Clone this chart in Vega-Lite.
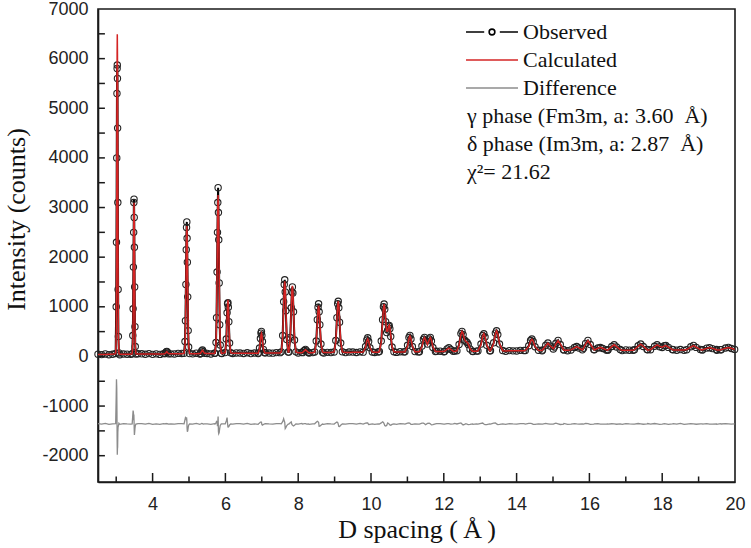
{
  "$schema": "https://vega.github.io/schema/vega-lite/v6.json",
  "width": 637,
  "height": 473,
  "autosize": {"type": "none"},
  "padding": {"left": 98, "top": 9, "right": 16, "bottom": 66},
  "background": "white",
  "config": {
    "view": {"stroke": "#1a1a1a", "strokeWidth": 1.6},
    "axis": {"grid": false, "domainColor": "#1a1a1a", "domainWidth": 1.6, "labelFont": "Liberation Sans", "labelFontSize": 18, "labelColor": "#222222", "titleFont": "Liberation Serif", "titleFontSize": 26, "titleFontWeight": "normal", "titleColor": "#111111"}
  },
  "data": {"values": [
    {"x":2.5,"o":46,"c":40,"d":-1354},{"x":2.6,"o":37,"c":41,"d":-1364},{"x":2.7,"o":50,"c":41,"d":-1351},{"x":2.8,"o":35,"c":42,"d":-1367},{"x":2.9,"o":44,"c":42,"d":-1358},
    {"x":2.985,"o":60,"c":56,"d":-1356},{"x":3.0,"o":1000,"c":446,"d":-806},{"x":3.0075,"o":2300,"c":1398,"d":-458},{"x":3.015,"o":4000,"c":3268,"d":-628},{"x":3.021,"o":5300,"c":5068,"d":-1128},{"x":3.0255,"o":5800,"c":6100,"d":-1660},{"x":3.03,"o":5870,"c":6493,"d":-1983},{"x":3.0345,"o":5600,"c":6100,"d":-1860},{"x":3.039,"o":4600,"c":5068,"d":-1828},{"x":3.045,"o":3100,"c":3268,"d":-1528},{"x":3.0525,"o":1350,"c":1398,"d":-1408},{"x":3.06,"o":400,"c":446,"d":-1406},{"x":3.075,"o":70,"c":56,"d":-1346},
    {"x":3.1,"o":35,"c":44,"d":-1369},{"x":3.2,"o":49,"c":44,"d":-1355},{"x":3.3,"o":45,"c":45,"d":-1360},{"x":3.4,"o":42,"c":45,"d":-1363},
    {"x":3.439,"o":55,"c":54,"d":-1359},{"x":3.456,"o":420,"c":239,"d":-1179},{"x":3.4645,"o":960,"c":689,"d":-1089},{"x":3.473,"o":1800,"c":1573,"d":-1133},{"x":3.48,"o":2500,"c":2424,"d":-1284},{"x":3.485,"o":3100,"c":2912,"d":-1172},{"x":3.49,"o":3170,"c":3098,"d":-1288},{"x":3.495,"o":2800,"c":2912,"d":-1472},{"x":3.5,"o":2200,"c":2424,"d":-1584},{"x":3.507,"o":1400,"c":1573,"d":-1533},{"x":3.5155,"o":600,"c":689,"d":-1449},{"x":3.524,"o":200,"c":239,"d":-1399},{"x":3.541,"o":50,"c":54,"d":-1364},
    {"x":3.6,"o":55,"c":47,"d":-1352},{"x":3.7,"o":53,"c":47,"d":-1354},{"x":3.8,"o":44,"c":48,"d":-1364},{"x":3.9,"o":57,"c":48,"d":-1351},{"x":4.0,"o":42,"c":49,"d":-1367},{"x":4.1,"o":52,"c":50,"d":-1358},{"x":4.2,"o":41,"c":50,"d":-1369},{"x":4.3,"o":56,"c":51,"d":-1355},
    {"x":4.346,"o":58,"c":56,"d":-1358},{"x":4.372,"o":90,"c":82,"d":-1352},{"x":4.39,"o":100,"c":98,"d":-1358},{"x":4.408,"o":85,"c":82,"d":-1357},{"x":4.434,"o":52,"c":56,"d":-1364},
    {"x":4.5,"o":52,"c":52,"d":-1360},{"x":4.6,"o":50,"c":53,"d":-1363},{"x":4.7,"o":61,"c":53,"d":-1352},{"x":4.8,"o":60,"c":54,"d":-1354},
    {"x":4.865,"o":62,"c":60,"d":-1358},{"x":4.89,"o":300,"c":216,"d":-1276},{"x":4.9025,"o":720,"c":595,"d":-1235},{"x":4.915,"o":1450,"c":1340,"d":-1250},{"x":4.925,"o":2150,"c":2057,"d":-1267},{"x":4.9325,"o":2600,"c":2468,"d":-1228},{"x":4.94,"o":2710,"c":2625,"d":-1275},{"x":4.9475,"o":2380,"c":2468,"d":-1448},{"x":4.955,"o":1900,"c":2057,"d":-1517},{"x":4.965,"o":1200,"c":1340,"d":-1500},{"x":4.9775,"o":520,"c":595,"d":-1435},{"x":4.99,"o":190,"c":216,"d":-1386},{"x":5.015,"o":58,"c":60,"d":-1362},
    {"x":5.1,"o":52,"c":56,"d":-1364},{"x":5.2,"o":65,"c":56,"d":-1351},{"x":5.3,"o":50,"c":57,"d":-1367},
    {"x":5.316,"o":60,"c":62,"d":-1362},{"x":5.348,"o":110,"c":100,"d":-1350},{"x":5.37,"o":128,"c":123,"d":-1355},{"x":5.392,"o":96,"c":100,"d":-1364},{"x":5.424,"o":64,"c":62,"d":-1358},
    {"x":5.5,"o":60,"c":58,"d":-1358},{"x":5.6,"o":50,"c":59,"d":-1369},{"x":5.7,"o":64,"c":59,"d":-1355},
    {"x":5.713,"o":65,"c":67,"d":-1362},{"x":5.742,"o":280,"c":260,"d":-1340},{"x":5.7565,"o":780,"c":731,"d":-1311},{"x":5.771,"o":1700,"c":1656,"d":-1316},{"x":5.7826,"o":2500,"c":2546,"d":-1406},{"x":5.7913,"o":3100,"c":3056,"d":-1316},{"x":5.8,"o":3400,"c":3251,"d":-1211},{"x":5.8087,"o":2900,"c":3056,"d":-1516},{"x":5.8174,"o":2350,"c":2546,"d":-1556},{"x":5.829,"o":1480,"c":1656,"d":-1536},{"x":5.8435,"o":640,"c":731,"d":-1451},{"x":5.858,"o":230,"c":260,"d":-1390},{"x":5.887,"o":66,"c":67,"d":-1361},
    {"x":5.9,"o":60,"c":60,"d":-1360},
    {"x":5.995,"o":78,"c":77,"d":-1359},{"x":6.025,"o":350,"c":289,"d":-1299},{"x":6.046,"o":880,"c":754,"d":-1234},{"x":6.0595,"o":1060,"c":1052,"d":-1352},{"x":6.07,"o":1080,"c":1140,"d":-1420},{"x":6.0805,"o":990,"c":1052,"d":-1422},{"x":6.094,"o":700,"c":754,"d":-1414},{"x":6.115,"o":270,"c":289,"d":-1379},{"x":6.145,"o":75,"c":77,"d":-1362},
    {"x":6.2,"o":59,"c":62,"d":-1363},{"x":6.3,"o":70,"c":62,"d":-1352},{"x":6.4,"o":69,"c":63,"d":-1354},{"x":6.5,"o":60,"c":64,"d":-1364},{"x":6.6,"o":74,"c":65,"d":-1351},{"x":6.7,"o":58,"c":65,"d":-1367},{"x":6.8,"o":68,"c":66,"d":-1358},{"x":6.9,"o":57,"c":66,"d":-1369},
    {"x":6.9025,"o":70,"c":72,"d":-1362},{"x":6.9375,"o":170,"c":151,"d":-1341},{"x":6.962,"o":360,"c":324,"d":-1324},{"x":6.9778,"o":470,"c":434,"d":-1324},{"x":6.99,"o":503,"c":467,"d":-1324},{"x":7.0022,"o":420,"c":434,"d":-1374},{"x":7.018,"o":300,"c":324,"d":-1384},{"x":7.0425,"o":140,"c":151,"d":-1371},{"x":7.0775,"o":74,"c":72,"d":-1358},
    {"x":7.1,"o":73,"c":68,"d":-1355},{"x":7.2,"o":68,"c":68,"d":-1360},{"x":7.3,"o":66,"c":69,"d":-1363},{"x":7.4,"o":77,"c":69,"d":-1352},{"x":7.5,"o":76,"c":70,"d":-1354},
    {"x":7.535,"o":92,"c":90,"d":-1358},{"x":7.573,"o":420,"c":373,"d":-1313},{"x":7.6,"o":1100,"c":995,"d":-1255},{"x":7.6167,"o":1450,"c":1393,"d":-1303},{"x":7.63,"o":1545,"c":1511,"d":-1326},{"x":7.6433,"o":1300,"c":1393,"d":-1453},{"x":7.66,"o":920,"c":995,"d":-1435},{"x":7.687,"o":340,"c":373,"d":-1393},{"x":7.725,"o":88,"c":90,"d":-1362},
    {"x":7.7425,"o":88,"c":90,"d":-1362},{"x":7.7815,"o":380,"c":356,"d":-1336},{"x":7.8088,"o":980,"c":939,"d":-1319},{"x":7.8264,"o":1300,"c":1311,"d":-1371},{"x":7.84,"o":1400,"c":1422,"d":-1382},{"x":7.8537,"o":1280,"c":1311,"d":-1391},{"x":7.8712,"o":900,"c":939,"d":-1399},{"x":7.8985,"o":330,"c":356,"d":-1386},{"x":7.9375,"o":92,"c":90,"d":-1358},
    {"x":8.0,"o":69,"c":73,"d":-1364},{"x":8.1,"o":83,"c":74,"d":-1351},
    {"x":8.118,"o":76,"c":78,"d":-1362},{"x":8.167,"o":118,"c":113,"d":-1355},{"x":8.2,"o":140,"c":134,"d":-1354},{"x":8.233,"o":110,"c":113,"d":-1363},{"x":8.282,"o":80,"c":78,"d":-1358},
    {"x":8.3,"o":68,"c":75,"d":-1367},{"x":8.4,"o":77,"c":75,"d":-1358},
    {"x":8.4525,"o":90,"c":88,"d":-1358},{"x":8.4955,"o":310,"c":276,"d":-1326},{"x":8.5256,"o":740,"c":686,"d":-1306},{"x":8.545,"o":990,"c":948,"d":-1318},{"x":8.56,"o":1060,"c":1026,"d":-1326},{"x":8.5751,"o":900,"c":948,"d":-1408},{"x":8.5944,"o":640,"c":686,"d":-1406},{"x":8.6245,"o":250,"c":276,"d":-1386},{"x":8.6675,"o":86,"c":88,"d":-1362},
    {"x":8.7,"o":68,"c":77,"d":-1369},{"x":8.8,"o":82,"c":77,"d":-1355},{"x":8.9,"o":78,"c":78,"d":-1360},
    {"x":8.9875,"o":90,"c":92,"d":-1362},{"x":9.0325,"o":320,"c":296,"d":-1336},{"x":9.064,"o":780,"c":743,"d":-1323},{"x":9.0843,"o":1060,"c":1029,"d":-1329},{"x":9.1,"o":1110,"c":1114,"d":-1364},{"x":9.1158,"o":980,"c":1029,"d":-1409},{"x":9.136,"o":690,"c":743,"d":-1413},{"x":9.1675,"o":270,"c":296,"d":-1386},{"x":9.2125,"o":94,"c":92,"d":-1358},
    {"x":9.3,"o":77,"c":80,"d":-1363},{"x":9.4,"o":89,"c":81,"d":-1352},{"x":9.5,"o":88,"c":82,"d":-1354},{"x":9.6,"o":79,"c":83,"d":-1364},{"x":9.7,"o":92,"c":83,"d":-1351},
    {"x":9.785,"o":86,"c":88,"d":-1362},{"x":9.85,"o":200,"c":184,"d":-1344},{"x":9.885,"o":330,"c":311,"d":-1341},{"x":9.91,"o":375,"c":354,"d":-1339},{"x":9.935,"o":300,"c":311,"d":-1371},{"x":9.97,"o":175,"c":184,"d":-1369},{"x":10.035,"o":90,"c":88,"d":-1358},
    {"x":10.1,"o":79,"c":86,"d":-1367},{"x":10.2,"o":88,"c":86,"d":-1358},
    {"x":10.23,"o":98,"c":100,"d":-1362},{"x":10.282,"o":310,"c":290,"d":-1340},{"x":10.318,"o":740,"c":698,"d":-1318},{"x":10.342,"o":1000,"c":970,"d":-1330},{"x":10.36,"o":1055,"c":1052,"d":-1357},{"x":10.378,"o":950,"c":981,"d":-1391},{"x":10.402,"o":700,"c":743,"d":-1403},{"x":10.43,"o":480,"c":511,"d":-1391},{"x":10.458,"o":530,"c":510,"d":-1340},{"x":10.482,"o":610,"c":600,"d":-1350},{"x":10.5,"o":625,"c":629,"d":-1364},{"x":10.518,"o":560,"c":581,"d":-1381},{"x":10.542,"o":400,"c":428,"d":-1388},{"x":10.578,"o":190,"c":200,"d":-1370},{"x":10.63,"o":96,"c":95,"d":-1359},
    {"x":10.7,"o":81,"c":90,"d":-1369},{"x":10.8,"o":96,"c":91,"d":-1355},{"x":10.9,"o":91,"c":91,"d":-1360},
    {"x":10.9325,"o":93,"c":95,"d":-1362},{"x":11.004,"o":225,"c":209,"d":-1344},{"x":11.0425,"o":380,"c":360,"d":-1340},{"x":11.07,"o":423,"c":411,"d":-1348},{"x":11.0975,"o":350,"c":360,"d":-1370},{"x":11.136,"o":200,"c":209,"d":-1369},{"x":11.2075,"o":97,"c":95,"d":-1358},
    {"x":11.3,"o":91,"c":94,"d":-1363},
    {"x":11.33,"o":96,"c":98,"d":-1362},{"x":11.4,"o":210,"c":194,"d":-1344},{"x":11.44,"o":345,"c":329,"d":-1344},{"x":11.47,"o":383,"c":380,"d":-1357},{"x":11.5,"o":320,"c":337,"d":-1377},{"x":11.55,"o":250,"c":240,"d":-1350},{"x":11.6,"o":350,"c":337,"d":-1347},{"x":11.63,"o":383,"c":380,"d":-1357},{"x":11.66,"o":310,"c":329,"d":-1379},{"x":11.7,"o":180,"c":194,"d":-1374},{"x":11.77,"o":100,"c":98,"d":-1358},
    {"x":11.8,"o":106,"c":98,"d":-1352},{"x":11.9,"o":105,"c":99,"d":-1354},{"x":12.0,"o":95,"c":99,"d":-1364},
    {"x":12.02,"o":101,"c":103,"d":-1362},{"x":12.09,"o":150,"c":144,"d":-1354},{"x":12.14,"o":175,"c":169,"d":-1354},{"x":12.19,"o":140,"c":144,"d":-1364},{"x":12.26,"o":105,"c":103,"d":-1358},
    {"x":12.3,"o":110,"c":101,"d":-1351},
    {"x":12.36,"o":112,"c":113,"d":-1361},{"x":12.42,"o":240,"c":227,"d":-1347},{"x":12.47,"o":460,"c":440,"d":-1340},{"x":12.5,"o":503,"c":503,"d":-1360},{"x":12.53,"o":440,"c":460,"d":-1380},{"x":12.57,"o":330,"c":340,"d":-1370},{"x":12.61,"o":300,"c":296,"d":-1356},{"x":12.64,"o":282,"c":288,"d":-1366},{"x":12.67,"o":240,"c":253,"d":-1373},{"x":12.72,"o":150,"c":159,"d":-1369},{"x":12.79,"o":106,"c":105,"d":-1359},
    {"x":12.8,"o":98,"c":105,"d":-1367},{"x":12.9,"o":107,"c":105,"d":-1358},
    {"x":12.9375,"o":111,"c":113,"d":-1362},{"x":13.022,"o":250,"c":237,"d":-1347},{"x":13.0675,"o":420,"c":402,"d":-1342},{"x":13.1,"o":457,"c":458,"d":-1361},{"x":13.1325,"o":390,"c":402,"d":-1372},{"x":13.178,"o":225,"c":237,"d":-1372},{"x":13.2625,"o":115,"c":113,"d":-1358},
    {"x":13.2825,"o":114,"c":116,"d":-1362},{"x":13.37,"o":275,"c":260,"d":-1345},{"x":13.4165,"o":470,"c":452,"d":-1342},{"x":13.45,"o":517,"c":516,"d":-1359},{"x":13.4835,"o":440,"c":452,"d":-1372},{"x":13.53,"o":250,"c":260,"d":-1370},{"x":13.6175,"o":118,"c":116,"d":-1358},
    {"x":13.7,"o":102,"c":111,"d":-1369},{"x":13.8,"o":117,"c":112,"d":-1355},{"x":13.9,"o":112,"c":112,"d":-1360},{"x":14.0,"o":110,"c":113,"d":-1363},{"x":14.1,"o":122,"c":114,"d":-1352},{"x":14.2,"o":121,"c":115,"d":-1354},
    {"x":14.24,"o":120,"c":122,"d":-1362},{"x":14.334,"o":215,"c":202,"d":-1347},{"x":14.384,"o":320,"c":308,"d":-1348},{"x":14.42,"o":350,"c":344,"d":-1354},{"x":14.456,"o":300,"c":308,"d":-1368},{"x":14.506,"o":195,"c":202,"d":-1367},{"x":14.6,"o":124,"c":122,"d":-1358},
    {"x":14.7,"o":114,"c":118,"d":-1364},
    {"x":14.712,"o":128,"c":131,"d":-1363},{"x":14.801,"o":225,"c":215,"d":-1350},{"x":14.86,"o":270,"c":267,"d":-1357},{"x":14.919,"o":210,"c":215,"d":-1365},{"x":15.008,"o":150,"c":155,"d":-1365},
    {"x":15.04,"o":190,"c":185,"d":-1355},{"x":15.08,"o":265,"c":251,"d":-1346},{"x":15.14,"o":322,"c":319,"d":-1357},{"x":15.2,"o":240,"c":251,"d":-1371},{"x":15.29,"o":135,"c":137,"d":-1362},
    {"x":15.3,"o":132,"c":123,"d":-1351},{"x":15.4,"o":116,"c":123,"d":-1367},
    {"x":15.494,"o":130,"c":132,"d":-1362},{"x":15.588,"o":180,"c":174,"d":-1354},{"x":15.65,"o":200,"c":200,"d":-1360},{"x":15.712,"o":170,"c":174,"d":-1364},{"x":15.806,"o":134,"c":132,"d":-1358},
    {"x":15.84,"o":165,"c":168,"d":-1363},{"x":15.896,"o":262,"c":250,"d":-1348},{"x":15.96,"o":322,"c":318,"d":-1356},{"x":16.024,"o":240,"c":250,"d":-1370},{"x":16.12,"o":138,"c":140,"d":-1362},
    {"x":16.136,"o":134,"c":132,"d":-1358},{"x":16.234,"o":170,"c":164,"d":-1354},{"x":16.3,"o":180,"c":184,"d":-1364},{"x":16.366,"o":160,"c":164,"d":-1364},{"x":16.464,"o":130,"c":132,"d":-1362},
    {"x":16.5,"o":127,"c":125,"d":-1358},
    {"x":16.514,"o":134,"c":136,"d":-1362},{"x":16.614,"o":200,"c":196,"d":-1356},{"x":16.68,"o":235,"c":234,"d":-1359},{"x":16.746,"o":190,"c":196,"d":-1366},{"x":16.846,"o":138,"c":136,"d":-1358},
    {"x":16.9,"o":117,"c":126,"d":-1369},{"x":17.0,"o":131,"c":126,"d":-1355},{"x":17.1,"o":126,"c":126,"d":-1360},{"x":17.2,"o":123,"c":126,"d":-1363},
    {"x":17.236,"o":135,"c":137,"d":-1362},{"x":17.34,"o":215,"c":206,"d":-1351},{"x":17.41,"o":250,"c":248,"d":-1358},{"x":17.48,"o":200,"c":206,"d":-1366},{"x":17.584,"o":139,"c":137,"d":-1358},
    {"x":17.6,"o":135,"c":127,"d":-1352},
    {"x":17.68,"o":135,"c":137,"d":-1362},{"x":17.79,"o":205,"c":196,"d":-1351},{"x":17.86,"o":235,"c":232,"d":-1357},{"x":17.93,"o":195,"c":203,"d":-1368},{"x":18.0,"o":180,"c":186,"d":-1366},{"x":18.06,"o":215,"c":211,"d":-1356},{"x":18.1,"o":220,"c":219,"d":-1359},{"x":18.17,"o":182,"c":189,"d":-1367},{"x":18.28,"o":140,"c":137,"d":-1357},
    {"x":18.3,"o":135,"c":129,"d":-1354},{"x":18.4,"o":125,"c":129,"d":-1364},{"x":18.5,"o":138,"c":129,"d":-1351},{"x":18.6,"o":122,"c":129,"d":-1367},
    {"x":18.672,"o":136,"c":138,"d":-1362},{"x":18.785,"o":195,"c":188,"d":-1353},{"x":18.86,"o":222,"c":220,"d":-1358},{"x":18.935,"o":182,"c":188,"d":-1366},{"x":19.048,"o":140,"c":138,"d":-1358},
    {"x":19.1,"o":132,"c":130,"d":-1358},
    {"x":19.108,"o":134,"c":136,"d":-1362},{"x":19.223,"o":168,"c":162,"d":-1354},{"x":19.3,"o":176,"c":178,"d":-1362},{"x":19.377,"o":158,"c":162,"d":-1364},{"x":19.492,"o":138,"c":136,"d":-1358},
    {"x":19.5,"o":122,"c":131,"d":-1369},{"x":19.6,"o":136,"c":131,"d":-1355},
    {"x":19.62,"o":136,"c":137,"d":-1361},{"x":19.74,"o":170,"c":163,"d":-1353},{"x":19.82,"o":182,"c":179,"d":-1357},{"x":19.9,"o":160,"c":163,"d":-1363},{"x":19.99,"o":142,"c":140,"d":-1358}
  ]},
  "layer": [
    {
      "transform": [{"fold": ["o", "c", "d"], "as": ["s", "v"]}],
      "encoding": {
        "x": {"field": "x", "type": "quantitative", "scale": {"domain": [2.5, 20], "nice": false, "zero": false},
          "axis": {"title": "D spacing (\u2009Å\u2009)", "values": [4,6,8,10,12,14,16,18,20], "ticks": false, "tickSize": 0, "labelPadding": 13, "labelFlush": false, "labelOverlap": false, "titleY": 55, "titleBaseline": "alphabetic"}},
        "y": {"field": "v", "type": "quantitative", "scale": {"domain": [-2530, 7000], "nice": false, "zero": false},
          "axis": {"title": "Intensity (counts)", "values": [-2000,-1000,0,1000,2000,3000,4000,5000,6000,7000], "labelExpr": "'' + datum.value", "ticks": false, "tickSize": 0, "labelPadding": 10, "labelFlush": false, "labelOverlap": false, "titleX": -82, "titleY": 210, "titleBaseline": "middle"}}
      },
      "layer": [
        {"transform": [{"filter": "datum.s === 'o'"}],
         "mark": {"type": "line", "strokeWidth": 2},
         "encoding": {"color": {"datum": "Observed", "type": "nominal",
           "scale": {"domain": ["Observed", "Calculated", "Difference", "γ phase (Fm3m, a: 3.60\u00a0 Å)", "δ phase (Im3m, a: 2.87\u00a0 Å)", "χ²= 21.62"], "range": ["#000000", "#d42424", "#8c8c8c", "transparent", "transparent", "transparent"]},
           "legend": {"title": null, "orient": "none", "legendX": 367, "legendY": 9, "direction": "vertical", "symbolType": "stroke", "symbolSize": 2700, "symbolStrokeWidth": 1.6, "labelFont": "Liberation Serif", "labelFontSize": 22, "labelColor": "#111111", "labelOffset": 4, "labelLimit": 400, "clipHeight": 28, "rowPadding": 0, "padding": 0,
             "encode": {"symbols": {"update": {"shape": {"signal": "datum.value === 'Observed' ? 'M-1,0H-0.3M0.3,0H1M-0.11,0A0.11,0.11 0 1,0 0.11,0A0.11,0.11 0 1,0 -0.11,0' : 'stroke'"}}},
                        "labels": {"update": {"dx": {"signal": "datum.index > 2 ? -56 : 0"}}}}}}}},
        {"transform": [{"filter": "datum.s === 'o'"}],
         "mark": {"type": "point", "shape": "circle", "filled": false, "size": 40, "color": "#222222", "strokeWidth": 1.1, "opacity": 1}},
        {"transform": [{"filter": "datum.s === 'c'"}],
         "mark": {"type": "line", "strokeWidth": 1.5},
         "encoding": {"color": {"datum": "Calculated", "type": "nominal"}}},
        {"transform": [{"filter": "datum.s === 'd'"}],
         "mark": {"type": "line", "strokeWidth": 1.3},
         "encoding": {"color": {"datum": "Difference", "type": "nominal"}}}
      ]
    },
    {
      "data": {"values": [{"t": 4}, {"t": 6}, {"t": 8}, {"t": 10}, {"t": 12}, {"t": 14}, {"t": 16}, {"t": 18}]},
      "mark": {"type": "rule", "color": "#1a1a1a", "strokeWidth": 1.5},
      "encoding": {
        "x": {"field": "t", "type": "quantitative", "scale": {"domain": [2.5, 20], "nice": false, "zero": false},
          "axis": {"title": "D spacing (\u2009Å\u2009)", "values": [4,6,8,10,12,14,16,18,20], "ticks": false, "tickSize": 0, "labelPadding": 13, "labelFlush": false, "labelOverlap": false, "titleY": 55, "titleBaseline": "alphabetic"}},
        "y": {"datum": -2530, "type": "quantitative", "scale": {"domain": [-2530, 7000], "nice": false, "zero": false},
          "axis": {"title": "Intensity (counts)", "values": [-2000,-1000,0,1000,2000,3000,4000,5000,6000,7000], "labelExpr": "'' + datum.value", "ticks": false, "tickSize": 0, "labelPadding": 10, "labelFlush": false, "labelOverlap": false, "titleX": -82, "titleY": 210, "titleBaseline": "middle"}},
        "y2": {"datum": -2349}
      }
    },
    {
      "data": {"values": [{"t": 3}, {"t": 5}, {"t": 7}, {"t": 9}, {"t": 11}, {"t": 13}, {"t": 15}, {"t": 17}, {"t": 19}]},
      "mark": {"type": "rule", "color": "#1a1a1a", "strokeWidth": 1.5},
      "encoding": {
        "x": {"field": "t", "type": "quantitative", "scale": {"domain": [2.5, 20], "nice": false, "zero": false},
          "axis": {"title": "D spacing (\u2009Å\u2009)", "values": [4,6,8,10,12,14,16,18,20], "ticks": false, "tickSize": 0, "labelPadding": 13, "labelFlush": false, "labelOverlap": false, "titleY": 55, "titleBaseline": "alphabetic"}},
        "y": {"datum": -2530, "type": "quantitative", "scale": {"domain": [-2530, 7000], "nice": false, "zero": false},
          "axis": {"title": "Intensity (counts)", "values": [-2000,-1000,0,1000,2000,3000,4000,5000,6000,7000], "labelExpr": "'' + datum.value", "ticks": false, "tickSize": 0, "labelPadding": 10, "labelFlush": false, "labelOverlap": false, "titleX": -82, "titleY": 210, "titleBaseline": "middle"}},
        "y2": {"datum": -2419}
      }
    },
    {
      "data": {"values": [{"t": -2000}, {"t": -1500}, {"t": -1000}, {"t": -500}, {"t": 0}, {"t": 500}, {"t": 1000}, {"t": 1500}, {"t": 2000}, {"t": 2500}, {"t": 3000}, {"t": 3500}, {"t": 4000}, {"t": 4500}, {"t": 5000}, {"t": 5500}, {"t": 6000}, {"t": 6500}]},
      "mark": {"type": "rule", "color": "#1a1a1a", "strokeWidth": 1.5},
      "encoding": {
        "y": {"field": "t", "type": "quantitative", "scale": {"domain": [-2530, 7000], "nice": false, "zero": false},
          "axis": {"title": "Intensity (counts)", "values": [-2000,-1000,0,1000,2000,3000,4000,5000,6000,7000], "labelExpr": "'' + datum.value", "ticks": false, "tickSize": 0, "labelPadding": 10, "labelFlush": false, "labelOverlap": false, "titleX": -82, "titleY": 210, "titleBaseline": "middle"}},
        "x": {"datum": 2.5, "type": "quantitative", "scale": {"domain": [2.5, 20], "nice": false, "zero": false},
          "axis": {"title": "D spacing (\u2009Å\u2009)", "values": [4,6,8,10,12,14,16,18,20], "ticks": false, "tickSize": 0, "labelPadding": 13, "labelFlush": false, "labelOverlap": false, "titleY": 55, "titleBaseline": "alphabetic"}},
        "x2": {"datum": 2.69}
      }
    }
  ]
}
